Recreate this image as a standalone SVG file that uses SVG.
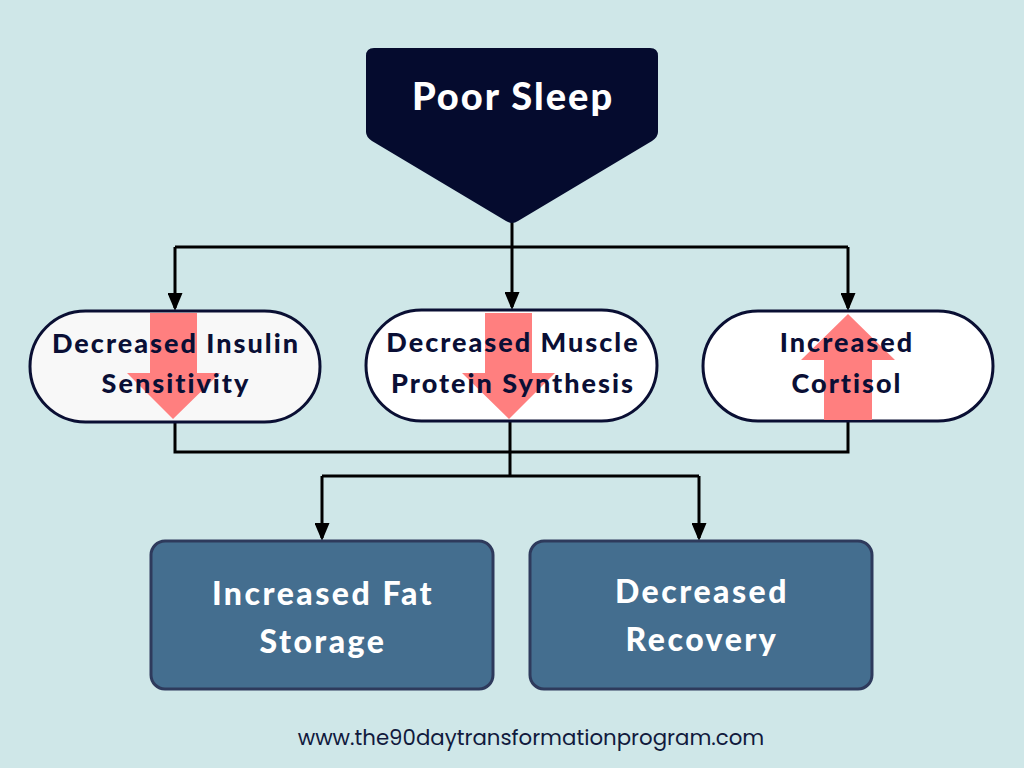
<svg xmlns="http://www.w3.org/2000/svg" width="1024" height="768" viewBox="0 0 1024 768">
<defs>
<marker id="ah" markerWidth="6" markerHeight="5" refX="5" refY="2.5" orient="auto" markerUnits="strokeWidth">
<path d="M0,0 L6,2.5 L0,5 Z" fill="#000"/>
</marker>
<style>
.t{font-family:"Lato","Liberation Sans",sans-serif;font-weight:900;text-anchor:middle}
.pill{stroke:#0a0f33;stroke-width:3}
.pt{font-size:27px;fill:#0a0f35;letter-spacing:2px}
.bx{fill:#446e8f;stroke:#2e3a5c;stroke-width:3}
.bt{font-size:32px;fill:#fff;letter-spacing:2.5px}
.ln{fill:none;stroke:#000;stroke-width:3}
.pa{fill:#ff7f7f}
</style>
</defs>
<rect width="1024" height="768" fill="#cfe7e8"/>
<g id="connectors">
<path class="ln" d="M512,222 V247"/>
<path class="ln" d="M175,247 H848"/>
<path class="ln" d="M175,247 V308" marker-end="url(#ah)"/>
<path class="ln" d="M512,247 V307" marker-end="url(#ah)"/>
<path class="ln" d="M848,247 V308" marker-end="url(#ah)"/>
<path class="ln" d="M175,422 V452 H848 V421"/>
<path class="ln" d="M510,421 V476"/>
<path class="ln" d="M322,476 H699"/>
<path class="ln" d="M322,476 V538" marker-end="url(#ah)"/>
<path class="ln" d="M699,476 V538" marker-end="url(#ah)"/>
</g>
<g id="poor-sleep">
<path d="M374,48 H650 Q658,48 658,56 V132 Q658,137 652,141 L518,221 Q512,225 506,221 L372,141 Q366,137 366,132 V56 Q366,48 374,48 Z" fill="#050b2e"/>
<text class="t" x="513" y="110" font-size="38" letter-spacing="2" fill="#fff">Poor Sleep</text>
</g>
<g id="insulin">
<rect class="pill" x="30" y="311" width="290" height="111" rx="55.5" fill="#f8f8f8"/>
<path class="pa" d="M150,313 H197 V373 H220 L173,419 L127,373 H150 Z"/>
<text class="t pt" x="176" y="353">Decreased Insulin</text>
<text class="t pt" x="176" y="393">Sensitivity</text>
</g>
<g id="muscle">
<rect class="pill" x="366" y="310" width="291" height="111" rx="55.5" fill="#fff"/>
<path class="pa" d="M485,313 H532 V373 H555 L509,419 L462,373 H485 Z"/>
<text class="t pt" x="513" y="352">Decreased Muscle</text>
<text class="t pt" x="513" y="393">Protein Synthesis</text>
</g>
<g id="cortisol">
<rect class="pill" x="703" y="311" width="290" height="110" rx="55" fill="#fff"/>
<path class="pa" d="M848,314 L895,360 H872 V420 H824 V360 H801 Z"/>
<text class="t pt" x="847" y="352">Increased</text>
<text class="t pt" x="847" y="393">Cortisol</text>
</g>
<g id="fat">
<rect class="bx" x="151" y="541" width="342" height="148" rx="14"/>
<text class="t bt" x="323" y="605">Increased Fat</text>
<text class="t bt" x="323" y="653">Storage</text>
</g>
<g id="recovery">
<rect class="bx" x="530" y="541" width="342" height="148" rx="14"/>
<text class="t bt" x="702" y="603">Decreased</text>
<text class="t bt" x="702" y="651">Recovery</text>
</g>
<text x="531" y="745" font-family="Poppins,'Open Sans','Liberation Sans',sans-serif" font-size="21.3" fill="#111a3d" text-anchor="middle">www.the90daytransformationprogram.com</text>
</svg>
